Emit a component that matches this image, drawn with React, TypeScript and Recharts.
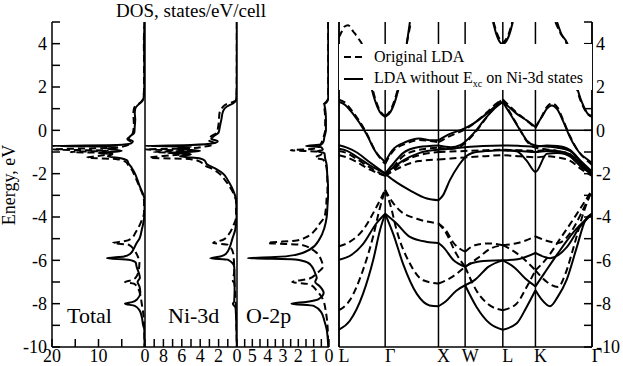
import React from "react";
import { ScatterChart, Scatter, XAxis, YAxis, CartesianGrid, ReferenceLine, Legend } from "recharts";

const W = 623;
const H = 366;
const SERIF = "Liberation Serif, Times New Roman, serif";

// energy axis (eV)
const energyTicks = [-10, -9, -8, -7, -6, -5, -4, -3, -2, -1, 0, 1, 2, 3, 4, 5];
const totalTicks = [0, 5, 10, 15, 20];
const niTicks = [0, 1, 2, 3, 4, 5, 6, 7, 8, 9];
const oTicks = [0, 0.5, 1, 1.5, 2, 2.5, 3, 3.5, 4, 4.5, 5, 5.5];

// k-path: L - Γ - X - W - L - K - Γ
const kTicks = [0, 0.866, 1.866, 2.366, 3.073, 3.685, 4.746];
const kLabels = ["L", "Γ", "X", "W", "L", "K", "Γ"];

const legendLabels = ["Original LDA", "LDA without E"];

// DOS: [energy, states/eV/cell]
const totalSolid = [
  [5, 0.1], [4, 0.2], [3, 0.15], [2, 0.15], [1.5, 0.3], [1.35, 0.6], [1.25, 1.1], [1.15, 1.6], [1.0, 2.1], [0.8, 2.2],
  [0.5, 2.1], [0.2, 2.2], [-0.1, 2.3], [-0.3, 3.3], [-0.4, 3.5], [-0.5, 2.6], [-0.6, 3.0], [-0.68, 6], [-0.72, 20],
  [-0.76, 6], [-0.85, 8], [-0.95, 5], [-1.05, 10], [-1.1, 7], [-1.2, 8], [-1.3, 5], [-1.4, 3.8], [-1.5, 3.6],
  [-1.75, 2.8], [-2.0, 2.15], [-2.3, 1.6], [-2.6, 1.1], [-2.9, 0.5], [-3.2, 0.1], [-3.8, 0.1], [-4.2, 0.3],
  [-4.6, 0.7], [-5.0, 1.2], [-5.2, 1.8], [-5.5, 2.5], [-5.7, 3.2], [-5.82, 4.5], [-5.9, 8.2], [-5.97, 3.5],
  [-6.1, 2.0], [-6.3, 1.8], [-6.6, 1.3], [-6.8, 1.1], [-7.0, 1.6], [-7.2, 1.2], [-7.5, 1.0], [-7.8, 1.7],
  [-7.93, 2.8], [-8.0, 4.3], [-8.1, 2.2], [-8.3, 1.2], [-8.6, 0.7], [-9.0, 0.4], [-9.2, 0.15], [-10, 0.1],
];
const totalDashed = [
  [5, 0.1], [4, 0.25], [3, 0.2], [2, 0.2], [1.5, 0.35], [1.3, 0.9], [1.2, 1.5], [1.05, 2.3], [0.8, 2.5], [0.3, 2.4],
  [0.0, 2.5], [-0.25, 2.9], [-0.4, 3.8], [-0.55, 3.0], [-0.7, 4.0], [-0.8, 6], [-0.88, 20], [-0.94, 8], [-1.0, 16],
  [-1.05, 7], [-1.15, 9], [-1.26, 12.5], [-1.33, 6], [-1.45, 4.2], [-1.6, 3.6], [-1.8, 2.9], [-2.0, 2.4],
  [-2.3, 1.8], [-2.6, 1.2], [-2.9, 0.6], [-3.3, 0.2], [-3.8, 0.2], [-4.1, 0.6], [-4.4, 1.2], [-4.7, 2.0],
  [-5.0, 3.0], [-5.12, 4.5], [-5.2, 6.9], [-5.28, 3.5], [-5.5, 2.4], [-5.8, 1.6], [-6.1, 1.2], [-6.5, 1.4],
  [-6.8, 2.0], [-6.92, 3.0], [-7.0, 4.3], [-7.08, 2.4], [-7.3, 1.5], [-7.6, 1.0], [-8.0, 0.7], [-8.4, 0.4],
  [-9.0, 0.2], [-10, 0.1],
];
const niSolid = [
  [5, 0.02], [2, 0.03], [1.4, 0.1], [1.25, 0.4], [1.1, 1.1], [0.9, 1.5], [0.5, 1.7], [0.2, 1.85], [-0.1, 2.0],
  [-0.3, 2.6], [-0.4, 2.8], [-0.5, 2.1], [-0.6, 2.6], [-0.68, 5], [-0.72, 10], [-0.76, 5], [-0.85, 6.5],
  [-0.95, 4], [-1.05, 7.5], [-1.1, 5], [-1.2, 6.2], [-1.3, 4], [-1.4, 3.5], [-1.55, 3.3], [-1.8, 2.2],
  [-2.0, 1.5], [-2.3, 1.0], [-2.6, 0.6], [-2.9, 0.3], [-3.2, 0.1], [-4.0, 0.05], [-4.6, 0.2], [-5.0, 0.5],
  [-5.4, 0.8], [-5.7, 1.2], [-5.82, 1.8], [-5.9, 2.9], [-5.97, 1.0], [-6.3, 0.3], [-7.0, 0.25], [-7.9, 0.3],
  [-8.0, 0.45], [-8.2, 0.15], [-10, 0.02],
];
const niDashed = [
  [5, 0.02], [2, 0.03], [1.4, 0.1], [1.3, 0.5], [1.2, 1.2], [1.05, 1.6], [0.8, 1.9], [0.3, 2.0], [-0.1, 2.2],
  [-0.3, 2.9], [-0.45, 3.1], [-0.6, 2.4], [-0.75, 3.5], [-0.83, 5], [-0.88, 10], [-0.94, 5], [-1.0, 9],
  [-1.06, 5], [-1.15, 7], [-1.26, 9.5], [-1.33, 5], [-1.45, 4], [-1.6, 3.6], [-1.8, 2.6], [-2.0, 1.9],
  [-2.3, 1.3], [-2.6, 0.8], [-2.9, 0.4], [-3.3, 0.1], [-4.0, 0.1], [-4.4, 0.4], [-4.8, 0.9], [-5.05, 1.5],
  [-5.2, 2.6], [-5.28, 1.0], [-5.7, 0.4], [-6.5, 0.3], [-6.95, 0.45], [-7.05, 0.3], [-7.5, 0.2], [-10, 0.02],
];
const oSolid = [
  [5, 0.05], [1.5, 0.05], [1.3, 0.15], [1.2, 0.3], [1.0, 0.25], [0.5, 0.2], [0.0, 0.2], [-0.3, 0.3], [-0.5, 0.35],
  [-0.65, 0.5], [-0.72, 1.5], [-0.78, 0.5], [-0.9, 0.4], [-0.97, 0.75], [-1.05, 0.3], [-1.3, 0.25], [-1.6, 0.15],
  [-2.0, 0.12], [-2.8, 0.05], [-3.5, 0.1], [-4.0, 0.15], [-4.5, 0.3], [-5.0, 0.6], [-5.5, 1.25], [-5.75, 2.2],
  [-5.85, 3.5], [-5.9, 5.3], [-5.96, 2.2], [-6.1, 1.4], [-6.3, 1.1], [-6.6, 0.9], [-6.8, 0.8], [-7.0, 0.9],
  [-7.2, 0.6], [-7.5, 0.35], [-7.8, 0.7], [-7.92, 1.5], [-8.0, 2.45], [-8.1, 1.0], [-8.4, 0.5], [-8.8, 0.3],
  [-9.2, 0.15], [-10, 0.05],
];
const oDashed = [
  [5, 0.05], [1.5, 0.05], [1.3, 0.2], [1.2, 0.35], [1.0, 0.3], [0.5, 0.25], [0.0, 0.25], [-0.3, 0.35], [-0.5, 0.45],
  [-0.7, 0.6], [-0.85, 1.0], [-0.92, 2.5], [-0.98, 0.8], [-1.1, 0.5], [-1.26, 0.9], [-1.35, 0.4], [-1.6, 0.2],
  [-2.0, 0.12], [-2.8, 0.1], [-3.1, 0.15], [-3.6, 0.2], [-4.0, 0.3], [-4.3, 0.6], [-4.6, 0.9], [-4.9, 1.4],
  [-5.08, 2.1], [-5.2, 4.0], [-5.28, 1.8], [-5.6, 0.9], [-6.0, 0.5], [-6.3, 0.4], [-6.6, 0.8], [-6.85, 1.3],
  [-7.0, 2.4], [-7.1, 1.3], [-7.4, 0.8], [-7.8, 0.4], [-8.4, 0.2], [-9.0, 0.1], [-10, 0.05],
];

// bands: segments of [k, energy]
const solidO2p = [
  [[0, -9.2], [0.2, -8.8], [0.45, -7.55], [0.64, -6.0], [0.77, -4.6], [0.866, -3.85]],
  [[0, -5.97], [0.2, -5.8], [0.45, -5.25], [0.7, -4.3], [0.866, -3.85]],
  [[0.866, -3.85], [1.02, -4.8], [1.2, -6.15], [1.46, -7.55], [1.7, -8.08], [1.866, -8.12]],
  [[0.866, -3.85], [1.08, -4.3], [1.33, -4.92], [1.65, -5.15], [1.866, -5.2]],
  [[1.866, -8.12], [2.0, -7.9], [2.2, -7.4], [2.366, -7.15]],
  [[1.866, -5.2], [1.96, -5.4], [2.15, -6.0], [2.366, -6.3]],
  [[2.366, -7.15], [2.58, -8.15], [2.83, -8.92], [3.073, -9.2]],
  [[2.366, -6.3], [2.5, -6.12], [2.8, -6.02], [3.073, -6.0]],
  [[2.366, -7.15], [2.55, -6.9], [2.8, -6.3], [3.073, -6.0]],
  [[3.073, -9.2], [3.33, -8.92], [3.52, -8.15], [3.685, -7.38]],
  [[3.073, -6.0], [3.35, -5.95], [3.685, -5.66]],
  [[3.073, -6.0], [3.3, -6.35], [3.5, -6.85], [3.685, -7.2]],
  [[3.685, -7.38], [3.8, -7.8], [3.96, -8.12], [4.1, -7.7], [4.27, -6.9], [4.46, -5.4], [4.62, -4.15], [4.746, -3.85]],
  [[3.685, -7.2], [3.85, -6.6], [4.1, -5.7], [4.4, -4.7], [4.746, -3.85]],
  [[3.685, -5.66], [3.96, -5.9], [4.27, -5.4], [4.52, -4.46], [4.746, -3.85]],
];
const dashedO2p = [
  [[0, -8.3], [0.2, -7.85], [0.45, -6.45], [0.64, -4.9], [0.77, -3.55], [0.866, -2.75]],
  [[0, -5.35], [0.2, -5.15], [0.45, -4.6], [0.7, -3.55], [0.866, -2.75]],
  [[0.866, -2.75], [0.97, -3.5], [1.08, -4.6], [1.33, -6.15], [1.58, -6.92], [1.866, -7.07]],
  [[0.866, -2.75], [1.0, -3.3], [1.14, -3.7], [1.46, -4.08], [1.866, -4.3]],
  [[1.866, -7.07], [2.1, -6.8], [2.366, -6.3]],
  [[1.866, -4.3], [2.0, -4.6], [2.15, -5.2], [2.366, -5.6]],
  [[1.866, -4.3], [2.0, -4.7], [2.2, -5.7], [2.366, -6.3]],
  [[2.366, -6.3], [2.58, -7.4], [2.83, -8.08], [3.073, -8.3]],
  [[2.366, -5.6], [2.55, -5.3], [2.8, -5.22], [3.073, -5.3]],
  [[2.366, -6.3], [2.6, -5.9], [2.85, -5.45], [3.073, -5.3]],
  [[3.073, -8.3], [3.33, -8.0], [3.52, -7.23], [3.685, -6.46]],
  [[3.073, -5.3], [3.35, -5.2], [3.685, -4.9]],
  [[3.073, -5.3], [3.35, -5.7], [3.685, -6.46]],
  [[3.685, -6.46], [3.9, -7.0], [4.11, -7.23], [4.25, -6.6], [4.4, -5.4], [4.58, -3.85], [4.746, -2.75]],
  [[3.685, -6.46], [3.9, -5.9], [4.15, -5.0], [4.45, -3.9], [4.746, -2.75]],
  [[3.685, -4.9], [3.9, -5.1], [4.11, -5.2], [4.35, -4.7], [4.55, -3.8], [4.746, -2.75]],
];
const solidNi3d = [
  [[0, 1.31], [0.1, 1.2], [0.26, 0.77], [0.51, -0.15], [0.69, -1.0], [0.866, -1.46]],
  [[0.866, -1.46], [1.0, -0.92], [1.25, -0.54], [1.5, -0.38], [1.75, -0.46], [1.866, -0.46]],
  [[1.866, -0.46], [2.05, -0.2], [2.366, 0.1], [2.52, 0.31], [2.77, 0.77], [2.96, 1.15], [3.073, 1.31]],
  [[3.073, 1.31], [3.2, 1.05], [3.33, 0.77], [3.52, 0.46], [3.685, 0.15]],
  [[3.685, 0.15], [3.8, 0.6], [3.9, 1.0], [3.99, 1.15], [4.1, 0.95], [4.2, 0.45], [4.33, -0.3], [4.5, -1.0], [4.68, -1.38], [4.746, -1.5]],
  [[0.866, -2.0], [1.0, -1.6], [1.2, -1.05], [1.5, -0.77], [1.866, -0.7]],
  [[1.866, -0.7], [2.1, -0.78], [2.27, -0.69], [2.52, -0.15], [2.77, 0.62], [2.96, 1.1], [3.073, 1.31]],
  [[3.073, 1.31], [3.25, 0.6], [3.4, 0.0], [3.52, -0.46], [3.685, -0.7], [3.9, -0.75], [4.1, -0.8], [4.33, -0.95], [4.55, -1.5], [4.746, -2.0]],
  [[0, -0.69], [0.15, -0.8], [0.32, -1.0], [0.57, -1.46], [0.866, -2.0]],
  [[0, -0.85], [0.15, -0.95], [0.32, -1.2], [0.57, -1.6], [0.866, -2.0]],
  [[0.866, -2.0], [1.0, -1.75], [1.2, -1.4], [1.5, -1.05], [1.866, -0.9]],
  [[0.866, -2.0], [1.02, -2.3], [1.33, -2.77], [1.65, -3.15], [1.866, -3.23]],
  [[1.866, -3.23], [1.95, -3.0], [2.08, -2.3], [2.25, -1.6], [2.366, -1.23]],
  [[1.866, -0.9], [2.1, -0.85], [2.366, -0.78], [2.7, -0.72], [3.073, -0.7], [3.4, -0.72], [3.685, -0.75], [3.9, -0.7], [4.1, -0.72], [4.33, -0.9], [4.55, -1.45], [4.746, -1.9]],
  [[2.366, -1.23], [2.5, -1.05], [2.8, -0.95], [3.073, -0.92], [3.4, -0.95], [3.685, -1.0], [3.9, -0.95], [4.1, -1.0], [4.33, -1.2], [4.55, -1.7], [4.746, -2.0]],
  [[3.073, -0.92], [3.33, -0.97], [3.52, -1.4], [3.685, -1.92], [3.9, -1.08], [4.1, -1.05], [4.33, -1.15], [4.55, -1.6], [4.746, -2.0]],
];
const dashedNi3d = [
  [[0, 1.42], [0.1, 1.3], [0.26, 0.85], [0.51, -0.1], [0.69, -1.0], [0.866, -1.55]],
  [[0.866, -1.55], [1.0, -1.0], [1.25, -0.62], [1.5, -0.45], [1.75, -0.5], [1.866, -0.55]],
  [[1.866, -0.55], [2.05, -0.3], [2.366, 0.05], [2.52, 0.3], [2.77, 0.82], [2.96, 1.25], [3.073, 1.42]],
  [[3.073, 1.42], [3.2, 1.12], [3.33, 0.82], [3.52, 0.45], [3.685, 0.1]],
  [[3.685, 0.1], [3.8, 0.62], [3.9, 1.08], [3.99, 1.25], [4.1, 1.05], [4.2, 0.5], [4.33, -0.25], [4.5, -1.0], [4.68, -1.45], [4.746, -1.6]],
  [[0.866, -2.1], [1.0, -1.75], [1.2, -1.2], [1.5, -0.9], [1.866, -0.8]],
  [[1.866, -0.8], [2.1, -0.85], [2.27, -0.75], [2.52, -0.2], [2.77, 0.6], [2.96, 1.22], [3.073, 1.42]],
  [[3.073, 1.42], [3.25, 0.65], [3.4, 0.0], [3.52, -0.5], [3.685, -0.8], [3.9, -0.88], [4.1, -0.95], [4.33, -1.1], [4.55, -1.6], [4.746, -2.1]],
  [[0, -0.95], [0.15, -1.05], [0.32, -1.3], [0.57, -1.7], [0.866, -2.1]],
  [[0, -1.15], [0.15, -1.25], [0.32, -1.45], [0.57, -1.8], [0.866, -2.1]],
  [[0.866, -2.1], [1.0, -1.9], [1.2, -1.65], [1.5, -1.42], [1.866, -1.35]],
  [[0.866, -2.1], [1.0, -1.85], [1.2, -1.45], [1.5, -1.15], [1.866, -1.0]],
  [[1.866, -1.0], [2.1, -0.98], [2.366, -0.95], [2.7, -0.92], [3.073, -0.9], [3.4, -0.92], [3.685, -0.95], [3.9, -0.92], [4.1, -0.95], [4.33, -1.1], [4.55, -1.6], [4.746, -2.1]],
  [[1.866, -1.35], [2.1, -1.3], [2.366, -1.25], [2.7, -1.2], [3.073, -1.15], [3.4, -1.2], [3.685, -1.25], [3.9, -1.2], [4.1, -1.25], [4.33, -1.4], [4.55, -1.8], [4.746, -2.1]],
];
const solidCond = [
  [[0.44, 3.9], [0.5, 3.1], [0.566, 2.4], [0.666, 1.45], [0.766, 0.85], [0.866, 0.62]],
  [[0.866, 0.62], [0.966, 0.85], [1.066, 1.45], [1.166, 2.45], [1.266, 3.9], [1.33, 5.0]],
  [[2.89, 5.0], [2.95, 4.45], [3.01, 4.1], [3.073, 3.97], [3.135, 4.1], [3.2, 4.45], [3.26, 5.0]],
  [[4.09, 5.0], [4.17, 4.45], [4.29, 3.97], [4.39, 2.9], [4.49, 1.77], [4.6, 1.05], [4.68, 0.72], [4.746, 0.62]],
];
const dashedCond = [
  [[0, 4.3], [0.05, 4.55], [0.1, 4.78], [0.17, 4.85], [0.27, 4.55], [0.36, 4.25], [0.45, 3.85], [0.53, 2.9], [0.6, 2.2], [0.68, 1.45], [0.77, 0.9], [0.866, 0.66]],
  [[0.866, 0.66], [0.96, 0.9], [1.05, 1.45], [1.15, 2.4], [1.25, 3.75], [1.35, 5.0]],
  [[2.9, 5.0], [2.96, 4.5], [3.02, 4.18], [3.073, 4.05], [3.125, 4.18], [3.19, 4.5], [3.25, 5.0]],
  [[4.06, 5.0], [4.15, 4.5], [4.27, 4.0], [4.37, 2.95], [4.47, 1.85], [4.58, 1.1], [4.67, 0.75], [4.746, 0.66]],
];

const DASH = "7 4";
const AXIS = { stroke: "#000", strokeWidth: 1.5 };
const TICK = { fill: "#000", fontSize: 18, fontFamily: SERIF };

const NoDot = () => null;
const evenLabel = (v: number) => (v % 2 === 0 ? String(v) : "");

const dosPoints = (rows: number[][]) => rows.map(([e, d]) => ({ x: d, y: e }));
const bandPoints = (rows: number[][]) => rows.map(([k, e]) => ({ x: k, y: e }));

function BandTick({ x, y, payload }: any) {
  const i = kTicks.indexOf(payload.value);
  return (
    <text x={x + 5} y={y} dy="0.71em" textAnchor="middle" fill="#000" fontSize={18} fontFamily={SERIF}>
      {kLabels[i]}
    </text>
  );
}

function LegendBox() {
  return (
    <div style={{ width: 253, height: 46, background: "#fff", fontFamily: SERIF, fontSize: 16, color: "#000", position: "relative" }}>
      {[DASH, undefined].map((dash, i) => (
        <div key={i} style={{ position: "absolute", left: 5, top: 3 + i * 22, height: 20, display: "flex", alignItems: "center", whiteSpace: "nowrap" }}>
          <svg width={19} height={4} style={{ marginRight: 11 }}>
            <line x1={0} y1={2} x2={19} y2={2} stroke="#000" strokeWidth={2} strokeDasharray={dash} />
          </svg>
          <span>
            {legendLabels[i]}
            {i === 1 && (
              <>
                <sub style={{ fontSize: 10 }}>xc</sub> on Ni-3d states
              </>
            )}
          </span>
        </div>
      ))}
    </div>
  );
}

type DosProps = {
  plotLeft: number;
  plotRight: number;
  max: number;
  ticks: number[];
  fmt: (v: number) => string;
  solid: number[][];
  dashed: number[][];
  leftLabels?: boolean;
};

function DosPanel({ plotLeft, plotRight, max, ticks, fmt, solid, dashed, leftLabels }: DosProps) {
  return (
    <div style={{ position: "absolute", left: 0, top: 0 }}>
      <ScatterChart width={W} height={H} margin={{ top: 22, right: W - plotRight, bottom: 0, left: 0 }}>
        <XAxis xAxisId="d" type="number" dataKey="x" domain={[0, max]} reversed allowDataOverflow ticks={ticks} interval={0}
          tickFormatter={fmt} height={19} tickSize={-8} tickMargin={10} axisLine={AXIS} tickLine={AXIS} tick={TICK} />
        <XAxis xAxisId="t" orientation="top" type="number" domain={[0, max]} reversed allowDataOverflow ticks={ticks} interval={0}
          height={0} tickSize={-8} axisLine={AXIS} tickLine={AXIS} tick={false} />
        <YAxis yAxisId="e" type="number" dataKey="y" domain={[-10, 5]} allowDataOverflow ticks={energyTicks} interval={0}
          width={plotLeft} tickSize={-8} tickMargin={13} tickFormatter={evenLabel} axisLine={AXIS} tickLine={AXIS}
          tick={leftLabels ? TICK : false} />
        <YAxis yAxisId="r" orientation="right" type="number" domain={[-10, 5]} allowDataOverflow ticks={energyTicks} interval={0}
          width={0} tickSize={-8} axisLine={AXIS} tickLine={AXIS} tick={false} />
        <Scatter data={dosPoints(dashed)} xAxisId="d" yAxisId="e" shape={NoDot} isAnimationActive={false}
          line={{ stroke: "#000", strokeWidth: 2, strokeDasharray: DASH }} lineJointType="monotoneY" />
        <Scatter data={dosPoints(solid)} xAxisId="d" yAxisId="e" shape={NoDot} isAnimationActive={false}
          line={{ stroke: "#000", strokeWidth: 2 }} lineJointType="monotoneY" />
      </ScatterChart>
    </div>
  );
}

function BandPanel() {
  const dashedSets = [...dashedO2p, ...dashedNi3d, ...dashedCond];
  const solidSets = [...solidO2p, ...solidNi3d, ...solidCond];
  return (
    <div style={{ position: "absolute", left: 0, top: 0 }}>
      <ScatterChart width={W} height={H} margin={{ top: 22, right: 0, bottom: 0, left: 0 }}>
        <CartesianGrid xAxisId="k" yAxisId="e" horizontal={false} stroke="#000" strokeWidth={1.5} />
        <XAxis xAxisId="k" type="number" dataKey="x" domain={[0, 4.746]} allowDataOverflow ticks={kTicks} interval={0}
          height={19} tickSize={-8} tickMargin={10} axisLine={AXIS} tickLine={false} tick={<BandTick />} />
        <XAxis xAxisId="t" orientation="top" type="number" domain={[0, 4.746]} allowDataOverflow ticks={kTicks} interval={0}
          height={0} axisLine={AXIS} tickLine={false} tick={false} />
        <YAxis yAxisId="e" type="number" dataKey="y" domain={[-10, 5]} allowDataOverflow ticks={energyTicks} interval={0}
          width={339} tickSize={-8} axisLine={AXIS} tickLine={AXIS} tick={false} />
        <YAxis yAxisId="r" orientation="right" type="number" domain={[-10, 5]} allowDataOverflow ticks={energyTicks} interval={0}
          width={31} tickSize={-8} tickMargin={12} tickFormatter={evenLabel} axisLine={AXIS} tickLine={AXIS} tick={TICK} />
        <ReferenceLine xAxisId="k" yAxisId="e" y={0} stroke="#000" strokeWidth={1.5} />
        {dashedSets.map((seg, i) => (
          <Scatter key={`d${i}`} data={bandPoints(seg)} xAxisId="k" yAxisId="e" shape={NoDot} isAnimationActive={false}
            line={{ stroke: "#000", strokeWidth: 2, strokeDasharray: DASH }} lineJointType="monotoneX" legendType="none" />
        ))}
        {solidSets.map((seg, i) => (
          <Scatter key={`s${i}`} data={bandPoints(seg)} xAxisId="k" yAxisId="e" shape={NoDot} isAnimationActive={false}
            line={{ stroke: "#000", strokeWidth: 2 }} lineJointType="monotoneX" legendType="none" />
        ))}
        <Legend layout="vertical" align="center" verticalAlign="middle" content={LegendBox}
          wrapperStyle={{ left: 339, top: 44, width: 253, height: 46 }} />
      </ScatterChart>
    </div>
  );
}

export default function App() {
  return (
    <div style={{ position: "absolute", left: 0, top: 0, width: W, height: H, background: "#fff", fontFamily: SERIF, color: "#000", overflow: "hidden" }}>
      <DosPanel plotLeft={52} plotRight={145} max={20} ticks={totalTicks} fmt={(v) => (v % 10 === 0 ? String(v) : "")}
        solid={totalSolid} dashed={totalDashed} leftLabels />
      <DosPanel plotLeft={145} plotRight={237} max={10} ticks={niTicks} fmt={(v) => (v % 2 === 0 ? String(v) : "")}
        solid={niSolid} dashed={niDashed} />
      <DosPanel plotLeft={237} plotRight={329} max={6} ticks={oTicks} fmt={(v) => (Number.isInteger(v) ? String(v) : "")}
        solid={oSolid} dashed={oDashed} />
      <BandPanel />
      <div style={{ position: "absolute", left: 191, top: 1, transform: "translateX(-50%)", fontSize: 19, lineHeight: "19px", whiteSpace: "nowrap" }}>
        DOS, states/eV/cell
      </div>
      <div style={{ position: "absolute", left: 9, top: 185, transform: "translate(-50%, -50%) rotate(-90deg)", fontSize: 18, lineHeight: "18px", whiteSpace: "nowrap" }}>
        Energy, eV
      </div>
      {[["Total", 67], ["Ni-3d", 168], ["O-2p", 246]].map(([name, x]) => (
        <div key={name as string} style={{ position: "absolute", left: x as number, top: 305, fontSize: 22, lineHeight: "22px", whiteSpace: "nowrap" }}>
          {name}
        </div>
      ))}
    </div>
  );
}
